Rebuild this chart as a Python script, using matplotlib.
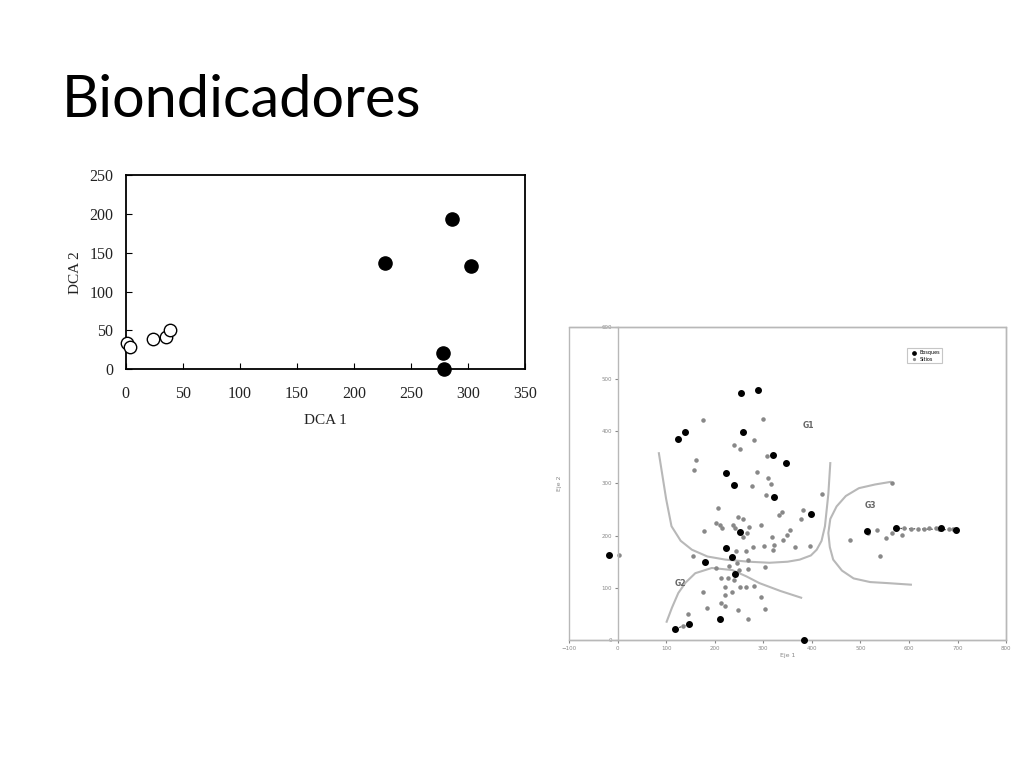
import matplotlib.pyplot as plt
from matplotlib.patches import Rectangle

# DCA chart data
dca_filled_x = [227.6, 285.7, 302.4, 277.8, 279.3]
dca_filled_y = [137, 193.4, 133, 20.6, 0]
dca_open_x = [1, 4, 24, 35, 39]
dca_open_y = [33.4, 29, 38.6, 42, 50]
dca_xticks = [0, 50, 100, 150, 200, 250, 300, 350]
dca_yticks = [0, 50, 100, 150, 200, 250]

# Second chart data (Eje 1 / Eje 2)
bosques_x = [255, 290, 139, 124, 258, 321, 347, 224, 240, 323, 398, 253, 224, 236, 181,
             242, -17, 210, 118, 148, 383, 513, 573, 667, 696]
bosques_y = [474, 480, 398, 385, 398, 355, 339, 320, 297, 274, 241, 207, 177, 159, 149,
             126, 163, 40, 21, 31, 0, 208, 214, 214, 211]
sitios_x = [176, 300, 281, 240, 253, 161, 158, 308, 288, 309, 316, 276, 306, 420, 207,
            258, 247, 339, 333, 381, 378, 203, 210, 214, 238, 242, 271, 295, 177, 258,
            267, 318, 356, 349, 340, 323, 302, 321, 278, 366, 265, 243, 156, 269, 246,
            268, 304, 203, 229, 250, 213, 227, 240, 264, 281, 222, 253, 175, 236, 221,
            212, 221, 295, 184, 247, 303, 268, 146, 3, 135, 396,
            479, 515, 535, 553, 565, 585, 540, 566,
            590, 604, 618, 632, 642, 656, 662, 683, 690]
sitios_y = [422, 424, 384, 374, 367, 344, 325, 352, 321, 310, 299, 296, 277, 280, 253,
            232, 235, 245, 239, 250, 232, 224, 221, 214, 221, 214, 216, 221, 209, 198,
            205, 198, 210, 201, 191, 182, 181, 173, 178, 179, 170, 170, 160, 154, 148,
            136, 139, 138, 141, 134, 118, 118, 115, 102, 104, 101, 102, 91, 91, 86,
            70, 66, 83, 61, 58, 60, 40, 49, 163, 26, 180,
            192, 205, 211, 195, 205, 202, 161, 301,
            214, 213, 213, 213, 214, 214, 213, 213, 213]

g1_x = [85, 100, 111, 130, 153, 185, 222, 270, 313, 350, 375, 398, 410, 420, 427, 434, 438]
g1_y = [358, 270, 218, 190, 173, 160, 154, 150, 148, 150, 154, 162, 173, 190, 218, 280, 339]
g2_x = [101, 112, 125, 140, 160, 194, 236, 265, 292, 335, 378]
g2_y = [35, 62, 90, 110, 128, 138, 134, 122, 109, 94, 81]
g3_x = [562, 530, 497, 470, 451, 438, 434, 437, 444, 462, 486, 520, 556, 604]
g3_y = [303, 298, 291, 276, 256, 232, 205, 178, 154, 133, 118, 111, 109, 106]

fig = plt.figure(figsize=(10.24, 7.68), dpi=100)
fig.patch.set_facecolor("white")

# Slide title
fig.text(0.060, 0.848, "Biondicadores", fontsize=41.5, family="Lato", color="black")

# ---- DCA chart ----
ax1 = fig.add_axes([0.1228, 0.5191, 0.3899, 0.2530])
ax1.scatter(dca_filled_x, dca_filled_y, s=90, color="black", zorder=3, clip_on=False)
ax1.scatter(dca_open_x, dca_open_y, s=80, facecolor="white", edgecolor="black",
            linewidth=1.0, zorder=3, clip_on=False)
ax1.set_xlim(0, 350)
ax1.set_ylim(0, 250)
ax1.set_xticks(dca_xticks)
ax1.set_yticks(dca_yticks)
ax1.tick_params(direction="in", length=4, labelsize=11.5)
ax1.tick_params(axis="x", pad=12)
ax1.tick_params(axis="y", pad=9)
for lbl in ax1.get_xticklabels() + ax1.get_yticklabels():
    lbl.set_family("Liberation Serif")
    lbl.set_color("#222222")
ax1.set_xlabel("DCA 1", family="Liberation Serif", fontsize=11, labelpad=9, color="#222222")
ax1.set_ylabel("DCA 2", family="Liberation Serif", fontsize=11, labelpad=5, color="#222222")
for sp in ax1.spines.values():
    sp.set_linewidth(1.3)

# ---- Second chart ----
ax2 = fig.add_axes([0.5557, 0.1667, 0.4268, 0.4076])
gray = "#b8b8b8"
ax2.plot(g1_x, g1_y, color=gray, linewidth=1.5, zorder=1)
ax2.plot(g2_x, g2_y, color=gray, linewidth=1.5, zorder=1)
ax2.plot(g3_x, g3_y, color=gray, linewidth=1.5, zorder=1)
ax2.plot([bosques_x[18], bosques_x[19]], [bosques_y[18], bosques_y[19]], color="#555555",
         linestyle=(0, (2, 2)), linewidth=0.8, zorder=2)
ax2.plot([bosques_x[22], bosques_x[24]], [bosques_y[22], bosques_y[24]], color="#555555",
         linestyle=(0, (1.5, 2)), linewidth=0.9, zorder=2)
sit = ax2.scatter(sitios_x, sitios_y, s=5, color="#888888", zorder=2)
bos = ax2.scatter(bosques_x, bosques_y, s=16, color="black", zorder=3, clip_on=False)
ax2.text(382, 406, "G1", fontsize=5.5, color="#666666", weight="bold")
ax2.text(118, 104, "G2", fontsize=5.5, color="#666666", weight="bold")
ax2.text(508, 253, "G3", fontsize=5.5, color="#666666", weight="bold")
ax2.set_xlim(-100, 800)
ax2.set_ylim(0, 600)
ax2.set_xticks(list(range(-100, 801, 100)))
ax2.set_yticks(list(range(0, 601, 100)))
ax2.spines["left"].set_position(("data", 0))
for sp in ax2.spines.values():
    sp.set_color(gray)
    sp.set_linewidth(1.0)
ax2.add_patch(Rectangle((0, 0), 1, 1, transform=ax2.transAxes, fill=False,
                        edgecolor=gray, linewidth=1.0, clip_on=False))
ax2.tick_params(length=2, labelsize=4, colors="#888888", pad=2)
ax2.set_xlabel("Eje 1", fontsize=4.5, color="#888888", labelpad=2)
ax2.set_ylabel("Eje 2", fontsize=4.5, color="#888888")
ax2.yaxis.set_label_coords(-0.015, 0.5)
leg = ax2.legend([bos, sit], ["Bosques", "Sitios"], loc="upper right",
                 bbox_to_anchor=(0.86, 0.94), fontsize=3.5, frameon=True,
                 markerscale=0.6, handletextpad=0.2, borderpad=0.4,
                 labelspacing=0.3, fancybox=False)
leg.get_frame().set_edgecolor(gray)
leg.get_frame().set_linewidth(0.8)

fig.savefig("out.png", dpi=100)
